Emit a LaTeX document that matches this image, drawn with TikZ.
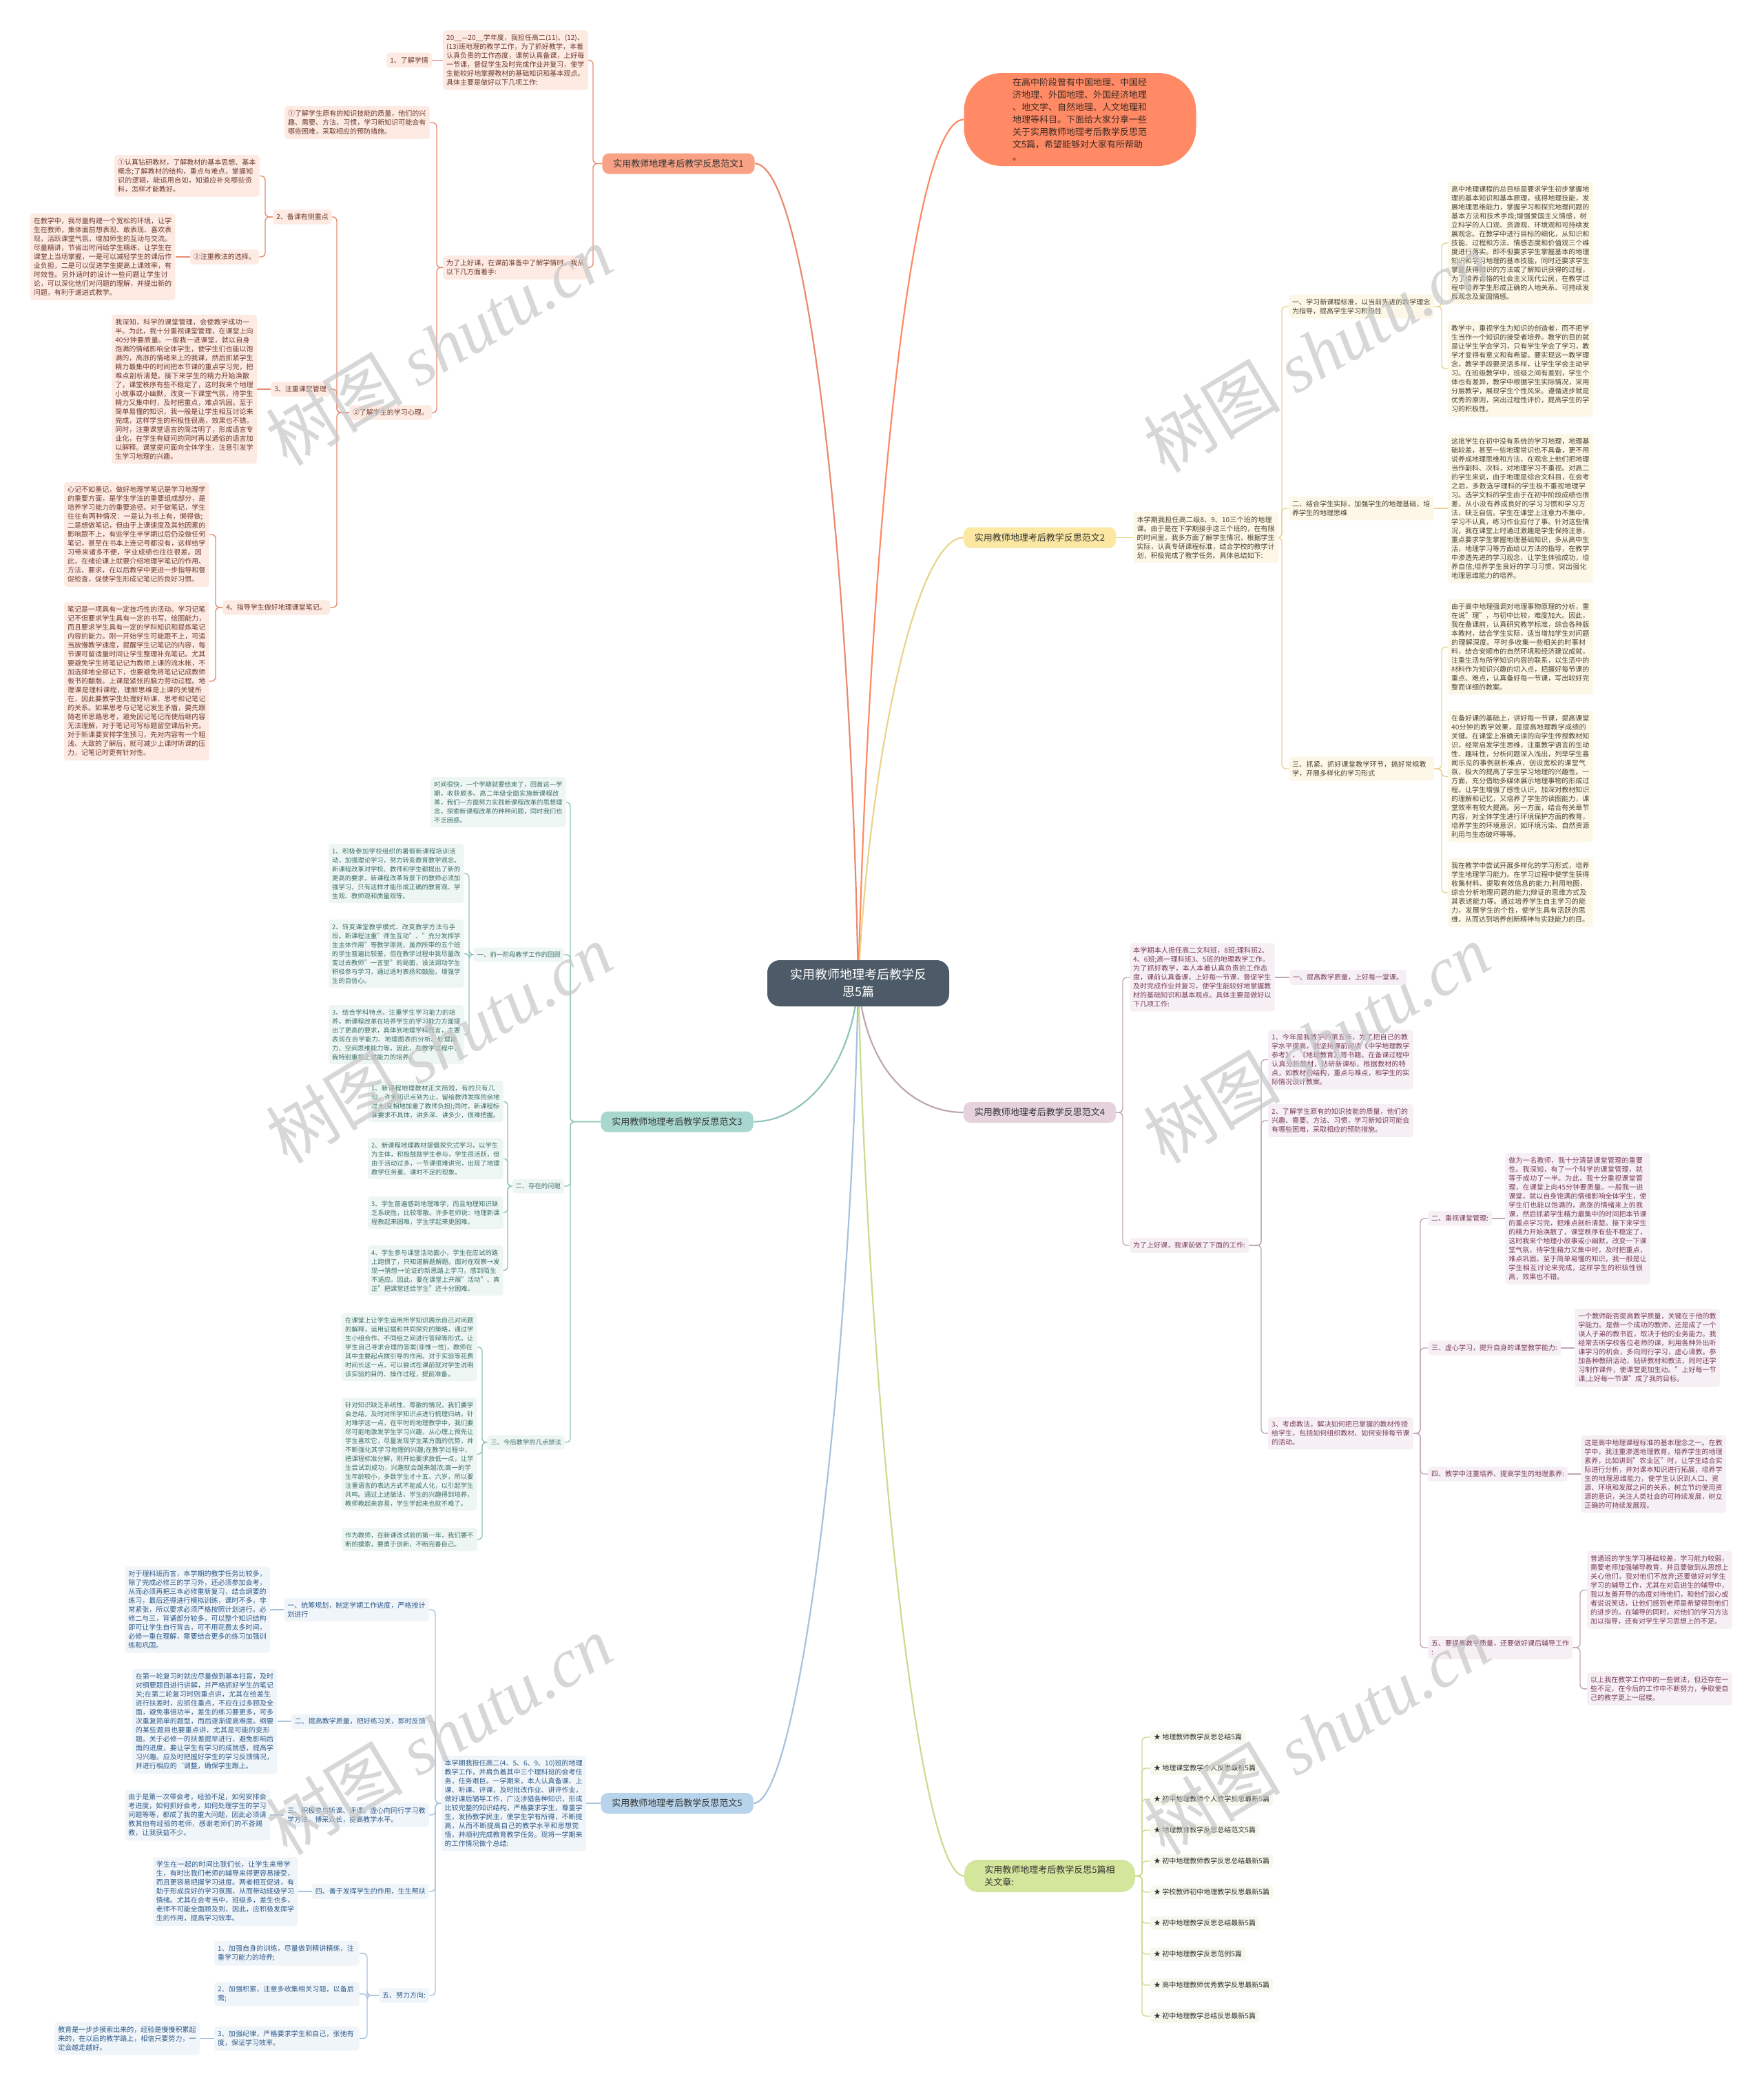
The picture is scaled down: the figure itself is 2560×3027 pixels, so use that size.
\documentclass[tikz,border=0pt]{standalone}
\usepackage{fontspec}
\setmainfont{Noto Sans CJK SC}
\newfontfamily\wmlatin{Liberation Serif}
\usetikzlibrary{backgrounds}
\XeTeXlinebreaklocale "zh"
\XeTeXlinebreakskip = 0pt plus 1pt
\definecolor{cfill}{HTML}{4D5B68}
\definecolor{bubfill}{HTML}{FF8A65}
\definecolor{bubtext}{HTML}{3B2A22}
\definecolor{l1}{HTML}{E98A6E}\definecolor{f1}{HTML}{F8A184}\definecolor{e1}{HTML}{FDEAE3}\definecolor{t1}{HTML}{6E3A2C}
\definecolor{l3}{HTML}{8FC4BA}\definecolor{f3}{HTML}{A8D7CF}\definecolor{e3}{HTML}{EEF6F4}\definecolor{t3}{HTML}{3E6F67}
\definecolor{l5}{HTML}{A6C2DD}\definecolor{f5}{HTML}{B8D4EC}\definecolor{e5}{HTML}{F0F5FA}\definecolor{t5}{HTML}{2E5A88}
\definecolor{l2}{HTML}{EBD38C}\definecolor{f2}{HTML}{FCE8A3}\definecolor{e2}{HTML}{FCF7E7}\definecolor{t2}{HTML}{4A4234}
\definecolor{l4}{HTML}{BFA6B3}\definecolor{f4}{HTML}{E6D2DC}\definecolor{e4}{HTML}{F6EFF3}\definecolor{t4}{HTML}{7A3D5D}
\definecolor{l6}{HTML}{C9DC8F}\definecolor{f6}{HTML}{D4E59C}\definecolor{e6}{HTML}{F5F8EC}\definecolor{t6}{HTML}{333333}
\tikzset{
 base/.style={rounded corners=4pt, inner xsep=5pt, inner ysep=6pt, font=\fontsize{10}{13}\selectfont, align=left},
 wide/.style={text width=200.5pt},
 narrow/.style={text width=186.5pt},
 s1/.style={base, fill=e1, text=t1},
 s2/.style={base, fill=e2, text=t2},
 s3/.style={base, fill=e3, text=t3, font=\fontsize{9.3}{13}\selectfont},
 s4/.style={base, fill=e4, text=t4},
 s5/.style={base, fill=e5, text=t5},
 s6/.style={base, fill=e6, text=t6, inner ysep=5pt},
 br/.style={rounded corners=10pt, inner xsep=16pt, inner ysep=8pt, minimum height=30pt, font=\fontsize{13}{16}\selectfont, text=black!80},
 k1/.style={draw=l1, line width=1.4pt, rounded corners=6pt},
 k2/.style={draw=l2, line width=1.4pt, rounded corners=6pt},
 k3/.style={draw=l3, line width=1.4pt, rounded corners=6pt},
 k4/.style={draw=l4, line width=1.4pt, rounded corners=6pt},
 k5/.style={draw=l5, line width=1.4pt, rounded corners=6pt},
 k6/.style={draw=l6, line width=1.4pt, rounded corners=6pt},
 wm/.style={rotate=31, text=black!22, opacity=0.7, font=\fontsize{100}{100}\selectfont},
}
\newcommand\myL[4]{\draw[#1] (#2.west) -- (#2.west -| #3) |- (#4.east);}
\newcommand\myR[4]{\draw[#1] (#2.east) -- (#2.east -| #3) |- (#4.west);}
\begin{document}
\begin{tikzpicture}[x=1pt,y=-1pt]
\useasboundingbox (0,0) rectangle (2560,3027);

% ---------- centre and intro ----------
\node[fill=cfill, text=white, rounded corners=18pt, minimum width=264pt, minimum height=67pt, align=center, font=\fontsize{18}{25}\selectfont] (ctr) at (1246,1427.5) {实用教师地理考后教学反\\思5篇};
\node[fill=bubfill, text=bubtext, rounded corners=55pt, minimum width=337pt, minimum height=135pt, align=left, text width=196pt, font=\fontsize{13}{18}\selectfont] (bub) at (1568,173.5) {在高中阶段曾有中国地理、中国经\\济地理、外国地理、外国经济地理\\、地文学、自然地理、人文地理和\\地理等科目。下面给大家分享一些\\关于实用教师地理考后教学反思范\\文5篇，希望能够对大家有所帮助\\。};

% ---------- branch labels ----------
\node[br, fill=f1] (b1) at (985,237.5) {实用教师地理考后教学反思范文1};
\node[br, fill=f3] (b3) at (983,1628.5) {实用教师地理考后教学反思范文3};
\node[br, fill=f5] (b5) at (983,2618) {实用教师地理考后教学反思范文5};
\node[br, fill=f2] (b2) at (1509.5,780.5) {实用教师地理考后教学反思范文2};
\node[br, fill=f4] (b4) at (1509.5,1615) {实用教师地理考后教学反思范文4};
\node[br, fill=f6, rounded corners=20pt, inner xsep=22pt, minimum width=248pt, minimum height=47pt, align=left, font=\fontsize{13}{17.5}\selectfont] (b6) at (1524,2723.5) {实用教师地理考后教学反思5篇相\\关文章:};

% ---------- branch 1 ----------
\node[s1, wide, anchor=north west] (b1t1) at (643,44) {20\_\_—20\_\_学年度，我担任高二(11)、(12)、(13)班地理的教学工作，为了抓好教学，本着认真负责的工作态度，课前认真备课，上好每一节课，督促学生及时完成作业并复习，使学生能较好地掌握教材的基础知识和基本观点。具体主要是做好以下几项工作:};
\node[s1, anchor=east] (b1n) at ([xshift=-16pt]b1t1.west) {1、了解学情};
\node[s1, wide, anchor=north west] (b1t2) at (643,371) {为了上好课，在课前准备中了解学情时，我从以下几方面着手:};
\node[s1, wide, anchor=north west] (b1a1) at (413,154) {①了解学生原有的知识技能的质量，他们的兴趣、需要、方法、习惯，学习新知识可能会有哪些困难，采取相应的预防措施。};
\node[s1, anchor=east] (b1a2) at (627,599) {②了解学生的学习心理。};
\node[s1, anchor=east] (b1b1) at (482,315) {2、备课有侧重点};
\node[s1, anchor=east] (b1b2) at (479,565) {3、注重课堂管理};
\node[s1, anchor=east] (b1b3) at (479,882) {4、指导学生做好地理课堂笔记。};
\node[s1, wide, anchor=north west] (b1c1) at (166,225) {①认真钻研教材，了解教材的基本思想、基本概念;了解教材的结构，重点与难点，掌握知识的逻辑，能运用自如，知道应补充哪些资料，怎样才能教好。};
\node[s1, anchor=east] (b1c2) at (376,373) {②注重教法的选择。};
\node[s1, wide, anchor=east] (b1c3) at ([xshift=-21pt]b1c2.west) {在教学中，我尽量构建一个宽松的环境，让学生在教师，集体面前想表现、敢表现、喜欢表现，活跃课堂气氛，增加师生的互动与交流。尽量精讲，节省出时间给学生精练，让学生在课堂上当场掌握，一是可以减轻学生的课后作业负担，二是可以促进学生提高上课效率，有时效性。另外适时的设计一些问题让学生讨论，可以深化他们对问题的理解，并提出新的问题，有利于递进式教学。};
\node[s1, wide, anchor=east] (b1d1) at ([xshift=-20pt]b1b2.west) {我深知，科学的课堂管理，会使教学成功一半。为此，我十分重视课堂管理，在课堂上向40分钟要质量。一般我一进课堂，就以自身饱满的情绪影响全体学生，使学生们也能以饱满的，高涨的情绪来上的我课，然后抓紧学生精力最集中的时间把本节课的重点学习完，把难点剖析清楚。接下来学生的精力开始涣散了，课堂秩序有些不稳定了，这时我来个地理小故事或小幽默，改变一下课堂气氛，待学生精力又集中时，及时把重点，难点巩固。至于简单易懂的知识，我一般是让学生相互讨论来完成，这样学生的积极性很高，效果也不错。同时，注重课堂语言的简洁明了，形成语言专业化，在学生有疑问的同时再以通俗的语言加以解释。课堂提问面向全体学生，注意引发学生学习地理的兴趣。};
\node[s1, wide, anchor=north west] (b1e1) at (93,700) {心记不如墨记，做好地理学笔记是学习地理学的重要方面，是学生学法的重要组成部分，是培养学习能力的重要途径。对于做笔记，学生往往有两种情况：一是认为书上有，懒得做;二是想做笔记，但由于上课速度及其他因素的影响跟不上，有些学生半学期过后仍没做任何笔记，甚至在书本上连记号都没有，这样给学习带来诸多不便，学业成绩也往往很差。因此，在绪论课上就要介绍地理学笔记的作用、方法、要求，在以后教学中更进一步指导和督促检查，促使学生形成记笔记的良好习惯。};
\node[s1, wide, anchor=north west] (b1e2) at (93,874) {笔记是一项具有一定技巧性的活动。学习记笔记不但要求学生具有一定的书写、绘图能力，而且要求学生具有一定的学科知识和提炼笔记内容的能力。刚一开始学生可能跟不上，可适当放慢教学速度，提醒学生记笔记的内容，每节课可留适量时间让学生整理补充笔记。尤其要避免学生将笔记记为教师上课的流水帐，不加选择地全部记下，也要避免将笔记记成教师板书的翻版。上课是紧张的脑力劳动过程。地理课是理科课程，理解思维是上课的关键所在，因此要教学生处理好听课、思考和记笔记的关系。如果思考与记笔记发生矛盾，要先跟随老师思路思考，避免因记笔记而使后继内容无法理解，对于笔记可写标题留空课后补充。对于新课要安排学生预习，先对内容有一个粗浅、大致的了解后，就可减少上课时听课的压力，记笔记时更有针对性。};

% ---------- branch 3 ----------
\node[s3, narrow, anchor=north west] (b3f0) at (625,1128) {时间很快，一个学期就要结束了，回首这一学期，收获颇多。高二年级全面实施新课程改革，我们一方面努力实践新课程改革的思想理念，探索新课程改革的种种问题，同时我们也不乏困惑。};
\node[s3, anchor=east] (b3f1) at (819,1386) {一、前一阶段教学工作的回顾};
\node[s3, narrow, anchor=north west] (b3g1) at (477,1225) {1、积极参加学校组织的暑假新课程培训活动，加强理论学习，努力转变教育教学观念。新课程改革对学校、教师和学生都提出了新的更高的要求，新课程改革背景下的教师必须加强学习，只有这样才能形成正确的教育观、学生观、教师观和质量观等。};
\node[s3, narrow, anchor=north west] (b3g2) at (477,1335) {2、转变课堂教学模式、改变教学方法与手段。新课程注重"师生互动"、"充分发挥学生主体作用"等教学原则，虽然所带的五个班的学生普遍比较差，但在教学过程中我尽量改变过去教师"一言堂"的局面，设法调动学生积极参与学习，通过适时表扬和鼓励，增强学生的自信心。};
\node[s3, narrow, anchor=north west] (b3g3) at (477,1459) {3、结合学科特点，注重学生学习能力的培养。新课程改革在培养学生的学习能力方面提出了更高的要求，具体到地理学科而言，主要表现在自学能力、地理图表的分析、处理能力、空间思维能力等。因此，在教学过程中，我特别重视上述能力的培养。};
\node[s3, anchor=east] (b3f2) at (819,1722) {二、存在的问题};
\node[s3, narrow, anchor=north west] (b3h1) at (534,1569) {1、新课程地理教材正文简短，有的只有几句，许多知识点到为止，留给教师发挥的余地过大(变相地加重了教师负担);同时，新课程标准要求不具体，讲多深、讲多少，很难把握。};
\node[s3, narrow, anchor=north west] (b3h2) at (534,1652) {2、新课程地理教材提倡探究式学习，以学生为主体，积极鼓励学生参与，学生很活跃，但由于活动过多，一节课很难讲完，出现了地理教学任务重、课时不足的现象。};
\node[s3, narrow, anchor=north west] (b3h3) at (534,1737) {3、学生普遍感到地理难学，而且地理知识缺乏系统性，比较零散。许多老师说：地理新课程教起来困难，学生学起来更困难。};
\node[s3, narrow, anchor=north west] (b3h4) at (534,1808) {4、学生参与课堂活动面小，学生在应试的路上跑惯了，只知道解题解题。面对在观察→发现→猜想→论证的新思路上学习，感到陌生不适应。因此，要在课堂上开展"活动"、真正"把课堂还给学生"还十分困难。};
\node[s3, anchor=east] (b3f3) at (820,2094) {三、今后教学的几点想法};
\node[s3, narrow, anchor=north west] (b3i1) at (496,1906) {在课堂上让学生运用所学知识展示自己对问题的解释，运用证据和共同探究的策略，通过学生小组合作、不同组之间进行答辩等形式，让学生自己寻求合理的答案(非惟一性)，教师在其中主要起点拨引导的作用。对于实验等花费时间长这一点，可以尝试在课前就对学生说明该实验的目的、操作过程，提前准备。};
\node[s3, narrow, anchor=north west] (b3i2) at (496,2029) {针对知识缺乏系统性、零散的情况，我们要学会总结，及时对所学知识点进行梳理归纳。针对难学这一点，在平时的地理教学中，我们要尽可能地激发学生学习兴趣，从心理上预先让学生喜欢它，尽量发现学生某方面的优势，并不断强化其学习地理的兴趣;在教学过程中，把课程标准分解，刚开始要求放低一点，让学生尝试到成功，兴趣就会越来越浓;高一的学生年龄较小，多数学生才十五、六岁，所以要注重语言的表达方式不能成人化，以引起学生共鸣。通过上述做法，学生的兴趣得到培养，教师教起来容易，学生学起来也就不难了。};
\node[s3, narrow, anchor=north west] (b3i3) at (496,2218) {作为教师，在新课改试验的第一年，我们要不断的摸索，要勇于创新，不断完善自己。};

% ---------- branch 5 ----------
\node[s5, wide, anchor=east] (b5j0) at ([xshift=-21pt]b5.west) {本学期我担任高二(4、5、6、9、10)班的地理教学工作，并肩负着其中三个理科班的会考任务，任务艰巨。一学期来，本人认真备课、上课、听课、评课，及时批改作业、讲评作业，做好课后辅导工作，广泛涉猎各种知识，形成比较完整的知识结构，严格要求学生，尊重学生，发扬教学民主，使学生学有所得，不断提高，从而不断提高自己的教学水平和思想觉悟，并顺利完成教育教学任务。现将一学期来的工作情况做个总结:};
\node[s5, wide, anchor=east] (b5k1) at (623,2337) {一、统筹规划，制定学期工作进度，严格按计划进行};
\node[s5, anchor=east] (b5k2) at (623,2499) {二、提高教学质量，把好练习关，即时反馈};
\node[s5, wide, anchor=east] (b5k3) at (623,2635) {三、积极参与听课、评课，虚心向同行学习教学方法，博采众长，提高教学水平。};
\node[s5, anchor=east] (b5k4) at (623,2746) {四、善于发挥学生的作用，生生帮扶};
\node[s5, anchor=east] (b5k5) at (623,2897) {五、努力方向:};
\node[s5, wide, anchor=east] (b5k1a) at ([xshift=-20pt]b5k1.west) {对于理科班而言，本学期的教学任务比较多，除了完成必修三的学习外，还必须参加会考，从而必须再把三本必修重新复习，结合纲要的练习，最后还得进行模拟训练，课时不多，非常紧张，所以要求必须严格按照计划进行。必修二与三，背诵部分较多，可以整个知识结构即可让学生自行背去，可不用花费太多时间，必修一重在理解，需要结合更多的练习加强训练和巩固。};
\node[s5, wide, anchor=east] (b5k2a) at ([xshift=-20pt]b5k2.west) {在第一轮复习时就应尽量做到基本扫盲，及时对纲要题目进行讲解，并严格抓好学生的笔记关;在第二轮复习时则重点讲，尤其在给差生进行扶差时，应抓住重点，不应在过多顾及全面，避免事倍功半，差生的练习要更多，可多次重复简单的题型，而后逐渐提高难度。纲要的某些题目也要重点讲，尤其是可能的变形题。关于必修一的扶差提早进行，避免影响后面的进度，要让学生有学习的成就感，提高学习兴趣。应及时把握好学生的学习反馈情况，并进行相应的`调整，确保学生跟上。};
\node[s5, wide, anchor=east] (b5k3a) at ([xshift=-20pt]b5k3.west) {由于是第一次带会考，经验不足，如何安排会考进度，如何抓好会考，如何处理学生的学习问题等等，都成了我的重大问题，因此必须请教其他有经验的老师，感谢老师们的不吝赐教，让我获益不少。};
\node[s5, wide, anchor=east] (b5k4a) at ([xshift=-20pt]b5k4.west) {学生在一起的时间比我们长，让学生来带学生，有时比我们老师的辅导来得更容易接受，而且更容易把握学习进度。两者相互促进，有助于形成良好的学习氛围，从而带动班级学习情绪。尤其在会考当中，班级多，差生也多，老师不可能全面顾及到，因此，应积极发挥学生的作用，提高学习效率。};
\node[s5, wide, anchor=north west] (b5l1) at (311,2818) {1、加强自身的训练，尽量做到精讲精练，注重学习能力的培养;};
\node[s5, wide, anchor=north west] (b5l2) at (311,2877) {2、加强积累，注意多收集相关习题，以备后需;};
\node[s5, wide, anchor=north west] (b5l3) at (311,2942) {3、加强纪律，严格要求学生和自己，张弛有度，保证学习效率。};
\node[s5, wide, anchor=east] (b5l3a) at ([xshift=-21pt]b5l3.west) {教育是一步步摸索出来的，经验是慢慢积累起来的，在以后的教学路上，相信只要努力，一定会越走越好。};

% ---------- branch 2 ----------
\node[s2, wide, anchor=west] (b2p0) at ([xshift=25pt]b2.east) {本学期我担任高二级8、9、10三个班的地理课。由于是在下学期接手这三个班的，在有限的时间里，我多方面了解学生情况，根据学生实际，认真专研课程标准，结合学校的教学计划，积极完成了教学任务。具体总结如下:};
\node[s2, wide, anchor=west] (b2q1) at (1871,445) {一、学习新课程标准，以当前先进的教学理念为指导，提高学生学习积极性};
\node[s2, wide, anchor=west] (b2q2) at (1871,738) {二、结合学生实际，加强学生的地理基础，培养学生的地理思维};
\node[s2, wide, anchor=west] (b2q3) at (1871,1116) {三、抓紧、抓好课堂教学环节，搞好常规教学，开展多样化的学习形式};
\node[s2, wide, anchor=north west] (b2r1) at (2102,264) {高中地理课程的总目标是要求学生初步掌握地理的基本知识和基本原理，或得地理技能，发展地理思维能力，掌握学习和探究地理问题的基本方法和技术手段;增强爱国主义情感，树立科学的人口观、资源观、环境观和可持续发展观念。在教学中进行目标的细化，从知识和技能、过程和方法、情感态度和价值观三个维度进行落实。即不但要求学生掌握基本的地理知识和学习地理的基本技能，同时还要求学生掌握获得知识的方法或了解知识获得的过程，为了培养合格的社会主义现代公民，在教学过程中培养学生形成正确的人地关系、可持续发展观念及爱国情感。};
\node[s2, wide, anchor=north west] (b2r2) at (2102,466) {教学中，重视学生为知识的创造者，而不把学生当作一个知识的接受者培养。教学的目的就是让学生学会学习，只有学生学会了学习，教学才变得有意义和有希望。要实现这一教学理念，教学手段要灵活多样，让学生学会主动学习。在班级教学中，班级之间有差别，学生个体也有差异，教学中根据学生实际情况，采用分层教学，展现学生个性风采。遵循进步就是优秀的原则，突出过程性评价，提高学生的学习的积极性。};
\node[s2, wide, anchor=west] (b2r3) at ([xshift=20pt]b2q2.east) {这批学生在初中没有系统的学习地理，地理基础较差，甚至一些地理常识也不具备，更不用说养成地理思维和方法，在观念上他们把地理当作副科、次科，对地理学习不重视。对高二的学生来说，由于地理是综合文科目，在会考之后，多数选学理科的学生极不重视地理学习。选学文科的学生由于在初中阶段成绩也很差，从小没有养成良好的学习习惯和学习方法，缺乏自信。学生在课堂上注意力不集中，学习不认真，练习作业应付了事。针对这些情况，我在课堂上时通过激趣是学生保持注意，重点要求学生掌握地理基础知识，多从高中生活，地理学习等方面给以方法的指导，在教学中渗透先进的学习观念，让学生体验成功，培养自信;培养学生良好的学习习惯，突出强化地理思维能力的培养。};
\node[s2, wide, anchor=north west] (b2r4) at (2102,870) {由于高中地理强调对地理事物原理的分析，重在说"理"，与初中比较，难度加大。因此，我在备课前，认真研究教学标准，综合各种版本教材，结合学生实际，适当增加学生对问题的理解深度。平时多收集一些相关的时事材料，结合安顺市的自然环境和经济建议成就，注重生活与所学知识内容的联系，以生活中的材料作为知识兴趣的切入点，把握好每节课的重点、难点，认真备好每一节课，写出较好完整而详细的教案。};
\node[s2, wide, anchor=north west] (b2r5) at (2102,1032) {在备好课的基础上，讲好每一节课，提高课堂40分钟的教学效果，是提高地理教学成绩的关键。在课堂上准确无误的向学生传授教材知识，经常启发学生思维，注重教学语言的生动性、趣味性，分析问题深入浅出，列举学生喜闻乐见的事例剖析难点，创设宽松的课堂气氛，极大的提高了学生学习地理的兴趣性。一方面，充分借助多媒体展示地理事物的形成过程。让学生增强了感性认识，加深对教材知识的理解和记忆，又培养了学生的读图能力，课堂效率有较大提高。另一方面，结合有关章节内容，对全体学生进行环境保护方面的教育，培养学生的环境意识，如环境污染、自然资源利用与生态破坏等等。};
\node[s2, wide, anchor=north west] (b2r6) at (2102,1246) {我在教学中尝试开展多样化的学习形式，培养学生地理学习能力。在学习过程中使学生获得收集材料、提取有效信息的能力;利用地图，综合分析地理问题的能力;辩证的思维方式及其表述能力等。通过培养学生自主学习的能力，发展学生的个性，使学生具有活跃的思维，从而达到培养创新精神与实践能力的目。};

% ---------- branch 4 ----------
\node[s4, wide, anchor=west] (b4s0) at (1640,1419) {本学期本人担任高二文科班，8班;理科班2、4、6班;高一理科班3、5班的地理教学工作。为了抓好教学，本人本着认真负责的工作态度，课前认真备课，上好每一节课，督促学生及时完成作业并复习，使学生能较好地掌握教材的基础知识和基本观点。具体主要是做好以下几项工作:};
\node[s4, anchor=west] (b4s0a) at ([xshift=21pt]b4s0.east) {一、提高教学质量，上好每一堂课。};
\node[s4, anchor=west] (b4s1) at (1640,1808) {为了上好课，我课前做了下面的工作:};
\node[s4, wide, anchor=north west] (b4t1) at (1841,1495) {1、今年是我教学的第五年，为了把自己的教学水平提高，我坚持课前阅读《中学地理教学参考》，《地理教育》等书籍。在备课过程中认真分析教材，钻研新课标，根据教材的特点，如教材的结构，重点与难点，和学生的实际情况设计教案。};
\node[s4, wide, anchor=north west] (b4t2) at (1841,1603) {2、了解学生原有的知识技能的质量，他们的兴趣、需要、方法、习惯，学习新知识可能会有哪些困难，采取相应的预防措施。};
\node[s4, wide, anchor=north west] (b4t3) at (1841,2057) {3、考虑教法，解决如何把已掌握的教材传授给学生，包括如何组织教材、如何安排每节课的活动。};
\node[s4, anchor=west] (b4u1) at (2073,1769) {二、重视课堂管理:};
\node[s4, anchor=west] (b4u2) at (2073,1957) {三、虚心学习，提升自身的课堂教学能力:};
\node[s4, anchor=west] (b4u3) at (2073,2140) {四、教学中注重培养、提高学生的地理素养:};
\node[s4, anchor=west] (b4u4) at (2073,2392) {五、要提高教学质量，还要做好课后辅导工作\\:};
\node[s4, wide, anchor=west] (b4v1) at ([xshift=19pt]b4u1.east) {做为一名教师，我十分清楚课堂管理的重要性。我深知，有了一个科学的课堂管理，就等于成功了一半。为此，我十分重视课堂管理，在课堂上向45分钟要质量。一般我一进课堂，就以自身饱满的情绪影响全体学生，使学生们也能以饱满的，高涨的情绪来上的我课，然后抓紧学生精力最集中的时间把本节课的重点学习完，把难点剖析清楚。接下来学生的精力开始涣散了，课堂秩序有些不稳定了，这时我来个地理小故事或小幽默，改变一下课堂气氛，待学生精力又集中时，及时把重点，难点巩固。至于简单易懂的知识，我一般是让学生相互讨论来完成，这样学生的积极性很高，效果也不错。};
\node[s4, wide, anchor=west] (b4v2) at ([xshift=20pt]b4u2.east) {一个教师能否提高教学质量，关键在于他的教学能力。是做一个成功的教师，还是成了一个误人子弟的教书匠，取决于他的业务能力。我经常去听学校各位老师的课，利用各种外出听课学习的机会，多向同行学习，虚心请教。参加各种教研活动，钻研教材和教法，同时还学习制作课件，使课堂更加生动。"上好每一节课;上好每一节课"成了我的目标。};
\node[s4, wide, anchor=west] (b4v3) at ([xshift=19pt]b4u3.east) {这是高中地理课程标准的基本理念之一。在教学中，我注重渗透地理教育，培养学生的地理素养，比如讲到"农业区"时，让学生结合实际进行分析，并对课本知识进行拓展，培养学生的地理思维能力，使学生认识到人口、资源、环境和发展之间的关系，树立节约使用资源的意识，关注人类社会的可持续发展，树立正确的可持续发展观。};
\node[s4, wide, anchor=north west] (b4v4) at (2304,2252) {普通班的学生学习基础较差，学习能力较弱，需要老师加强辅导教育，并且要做到从思想上关心他们，我对他们不放弃;还要做好对学生学习的辅导工作，尤其在对后进生的辅导中，我以友善开导的态度对待他们，和他们谈心或者说说笑话，让他们感到老师是希望得到他们的进步的。在辅导的同时，对他们的学习方法加以指导，还有对学生学习思想上的不足。};
\node[s4, wide, anchor=north west] (b4v5) at (2304,2428) {以上我在教学工作中的一些做法，但还存在一些不足，在今后的工作中不断努力，争取使自己的教学更上一层楼。};

% ---------- branch 6 ----------
\node[s6, anchor=west] (b6i1) at (1670,2522) {★ 地理教师教学反思总结5篇};
\node[s6, anchor=west] (b6i2) at (1670,2567) {★ 地理课堂教学个人反思最新5篇};
\node[s6, anchor=west] (b6i3) at (1670,2612) {★ 初中地理教师个人教学反思最新5篇};
\node[s6, anchor=west] (b6i4) at (1670,2657) {★ 地理教育教学反思总结范文5篇};
\node[s6, anchor=west] (b6i5) at (1670,2702) {★ 初中地理教师教学反思总结最新5篇};
\node[s6, anchor=west] (b6i6) at (1670,2747) {★ 学校教师初中地理教学反思最新5篇};
\node[s6, anchor=west] (b6i7) at (1670,2792) {★ 初中地理教学反思总结最新5篇};
\node[s6, anchor=west] (b6i8) at (1670,2837) {★ 初中地理教学反思范例5篇};
\node[s6, anchor=west] (b6i9) at (1670,2882) {★ 高中地理教师优秀教学反思最新5篇};
\node[s6, anchor=west] (b6i10) at (1670,2927) {★ 初中地理教学总结反思最新5篇};

% ---------- connectors ----------
\begin{pgfonlayer}{background}
\fill[white] (0,0) rectangle (2560,3027);
\coordinate (v11) at (861,0); \coordinate (v12) at (634,0); \coordinate (v13) at (489,0);
\coordinate (v14) at (385,0); \coordinate (v15) at (313,0);
\coordinate (v31) at (828,0); \coordinate (v32) at (681,0); \coordinate (v33) at (737,0); \coordinate (v34) at (700,0);
\coordinate (v51) at (632,0); \coordinate (v52) at (533,0);
\coordinate (v21) at (1861,0); \coordinate (v22) at (2093,0);
\coordinate (v41) at (1630,0); \coordinate (v42) at (1831,0); \coordinate (v43) at (2062,0); \coordinate (v44) at (2294,0);
\coordinate (v61) at (1658,0);
% centre curves
\draw[l1, line width=2.2pt] (ctr.center) .. controls (1235,800) and (1170,237.5) .. (b1.east);
\draw[bubfill, line width=2.2pt] (ctr.center) .. controls (1262,800) and (1320,173.5) .. (bub.west);
\draw[l2, line width=2.2pt] (ctr.center) .. controls (1262,1100) and (1330,780.5) .. (b2.west);
\draw[l3, line width=2.2pt] (ctr.center) .. controls (1235,1560) and (1160,1628.5) .. (b3.east);
\draw[l4, line width=2.2pt] (ctr.center) .. controls (1258,1560) and (1330,1615) .. (b4.west);
\draw[l5, line width=2.2pt] (ctr.center) .. controls (1235,2000) and (1160,2618) .. (b5.east);
\draw[l6, line width=2.2pt] (ctr.center) .. controls (1260,2000) and (1330,2723.5) .. (b6.west);
% branch 1
\myL{k1}{b1}{v11}{b1t1} \myL{k1}{b1}{v11}{b1t2}
\draw[k1] (b1t1.west) -- (b1n.east);
\myL{k1}{b1t2}{v12}{b1a1} \myL{k1}{b1t2}{v12}{b1a2}
\myL{k1}{b1a2}{v13}{b1b1} \myL{k1}{b1a2}{v13}{b1b2} \myL{k1}{b1a2}{v13}{b1b3}
\myL{k1}{b1b1}{v14}{b1c1} \myL{k1}{b1b1}{v14}{b1c2}
\draw[k1] (b1c2.west) -- (b1c3.east);
\draw[k1] (b1b2.west) -- (b1d1.east);
\myL{k1}{b1b3}{v15}{b1e1} \myL{k1}{b1b3}{v15}{b1e2}
% branch 3
\myL{k3}{b3}{v31}{b3f0} \myL{k3}{b3}{v31}{b3f1} \myL{k3}{b3}{v31}{b3f2} \myL{k3}{b3}{v31}{b3f3}
\myL{k3}{b3f1}{v32}{b3g1} \myL{k3}{b3f1}{v32}{b3g2} \myL{k3}{b3f1}{v32}{b3g3}
\myL{k3}{b3f2}{v33}{b3h1} \myL{k3}{b3f2}{v33}{b3h2} \myL{k3}{b3f2}{v33}{b3h3} \myL{k3}{b3f2}{v33}{b3h4}
\myL{k3}{b3f3}{v34}{b3i1} \myL{k3}{b3f3}{v34}{b3i2} \myL{k3}{b3f3}{v34}{b3i3}
% branch 5
\draw[k5] (b5.west) -- (b5j0.east);
\myL{k5}{b5j0}{v51}{b5k1} \myL{k5}{b5j0}{v51}{b5k2} \myL{k5}{b5j0}{v51}{b5k3} \myL{k5}{b5j0}{v51}{b5k4} \myL{k5}{b5j0}{v51}{b5k5}
\draw[k5] (b5k1.west) -- (b5k1a.east);
\draw[k5] (b5k2.west) -- (b5k2a.east);
\draw[k5] (b5k3.west) -- (b5k3a.east);
\draw[k5] (b5k4.west) -- (b5k4a.east);
\myL{k5}{b5k5}{v52}{b5l1} \myL{k5}{b5k5}{v52}{b5l2} \myL{k5}{b5k5}{v52}{b5l3}
\draw[k5] (b5l3.west) -- (b5l3a.east);
% branch 2
\draw[k2] (b2.east) -- (b2p0.west);
\myR{k2}{b2p0}{v21}{b2q1} \myR{k2}{b2p0}{v21}{b2q2} \myR{k2}{b2p0}{v21}{b2q3}
\myR{k2}{b2q1}{v22}{b2r1} \myR{k2}{b2q1}{v22}{b2r2}
\draw[k2] (b2q2.east) -- (b2r3.west);
\myR{k2}{b2q3}{v22}{b2r4} \myR{k2}{b2q3}{v22}{b2r5} \myR{k2}{b2q3}{v22}{b2r6}
% branch 4
\myR{k4}{b4}{v41}{b4s0} \myR{k4}{b4}{v41}{b4s1}
\draw[k4] (b4s0.east) -- (b4s0a.west);
\myR{k4}{b4s1}{v42}{b4t1} \myR{k4}{b4s1}{v42}{b4t2} \myR{k4}{b4s1}{v42}{b4t3}
\myR{k4}{b4t3}{v43}{b4u1} \myR{k4}{b4t3}{v43}{b4u2} \myR{k4}{b4t3}{v43}{b4u3} \myR{k4}{b4t3}{v43}{b4u4}
\draw[k4] (b4u1.east) -- (b4v1.west);
\draw[k4] (b4u2.east) -- (b4v2.west);
\draw[k4] (b4u3.east) -- (b4v3.west);
\myR{k4}{b4u4}{v44}{b4v4} \myR{k4}{b4u4}{v44}{b4v5}
% branch 6
\foreach \i in {1,...,10} {\myR{k6}{b6}{v61}{b6i\i}}
\end{pgfonlayer}

% ---------- watermark ----------
\foreach \p in {(637,502),(1911,512),(637,1515),(1911,1515),(637,2519),(1911,2519)}
  \node[wm] at \p {树图 {\wmlatin\itshape shutu.cn}};
\end{tikzpicture}
\end{document}
